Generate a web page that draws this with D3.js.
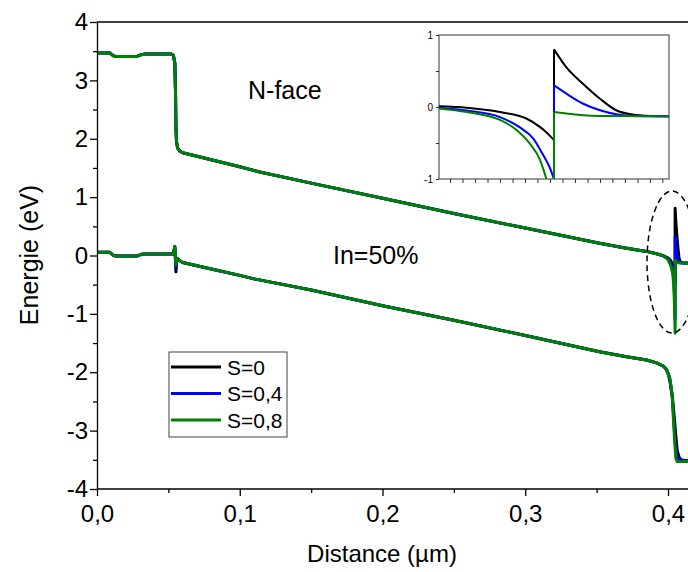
<!DOCTYPE html>
<html><head><meta charset="utf-8">
<script src="https://cdn.jsdelivr.net/npm/d3@7"></script>
<style>body{margin:0;background:#fff}text{font-family:"Liberation Sans",Arial,sans-serif}</style>
</head><body>
<svg id="c" width="688" height="572"></svg>
<script>
// ---------- DATA ----------
const seriesNames = ["S=0", "S=0,4", "S=0,8"];
const seriesColors = ["#000000", "#0000ff", "#008000"];
const xTicks = [0, 0.1, 0.2, 0.3, 0.4];
const yTicks = [-4, -3, -2, -1, 0, 1, 2, 3, 4];
const insetYTicks = [-1, 0, 1];

// conduction band (upper curve), common part [distance µm, energy eV]
const cbCommon = [[0,3.47],[0.009,3.47],[0.0115,3.42],[0.0135,3.41],[0.028,3.41],[0.031,3.44],[0.033,3.45],[0.052,3.45],[0.0535,3.43],[0.0545,3.3],[0.055,2.8],[0.0553,2.2],[0.0557,1.95],[0.0565,1.84],[0.058,1.79],[0.06,1.76],[0.07,1.70],[0.08,1.64],[0.1,1.52],[0.114,1.43],[0.15,1.24],[0.2,0.98],[0.25,0.72],[0.3,0.47],[0.352,0.21],[0.37,0.13],[0.385,0.07],[0.392,0.03],[0.396,0.0]];
// series-specific tails of conduction band near the heterointerface
const cbTail_S0  = [[0.398,-0.02],[0.4,-0.04],[0.402,-0.09],[0.4035,-0.17],[0.4044,-0.28],[0.405,-0.47],[0.405,0.81],[0.4055,0.57],[0.4063,0.32],[0.407,0.12],[0.4077,-0.04],[0.4084,-0.1],[0.41,-0.13],[0.415,-0.13]];
const cbTail_S04 = [[0.398,-0.02],[0.4,-0.05],[0.402,-0.13],[0.4035,-0.28],[0.4041,-0.44],[0.4045,-0.65],[0.4048,-0.83],[0.405,-1.1],[0.405,0.32],[0.4054,0.19],[0.406,0.05],[0.4067,-0.05],[0.4074,-0.1],[0.408,-0.125],[0.415,-0.13]];
const cbTail_S08 = [[0.398,-0.03],[0.4,-0.07],[0.402,-0.18],[0.4034,-0.32],[0.404,-0.51],[0.4044,-0.74],[0.4047,-1.0],[0.405,-1.33],[0.405,-0.08],[0.4054,-0.09],[0.406,-0.115],[0.407,-0.125],[0.415,-0.13]];

// valence band (lower curve)
const vbStart = [[0,0.055],[0.009,0.055],[0.0115,0.0],[0.0135,-0.01],[0.028,-0.01],[0.031,0.02],[0.033,0.025],[0.0535,0.025]];
const vbSpike_S0  = [[0.0545,0.15],[0.0553,-0.28],[0.0558,-0.1]];
const vbSpike_S04 = [[0.0545,0.15],[0.0553,-0.2],[0.0558,-0.08]];
const vbSpike_S08 = [[0.0545,0.16],[0.0553,-0.16],[0.0558,-0.06]];
const vbMiddle = [[0.0565,-0.05],[0.058,-0.09],[0.06,-0.12],[0.08,-0.23],[0.1,-0.34],[0.11,-0.40],[0.15,-0.59],[0.2,-0.86],[0.25,-1.11],[0.3,-1.37],[0.352,-1.65],[0.37,-1.73],[0.385,-1.79],[0.392,-1.84],[0.397,-1.9],[0.399,-1.96],[0.4005,-2.05]];
const vbTail_S0  = [[0.4015,-2.18],[0.403,-2.4],[0.4045,-2.8],[0.4055,-3.1],[0.4065,-3.35],[0.408,-3.47],[0.41,-3.51],[0.415,-3.52]];
const vbTail_S04 = [[0.4015,-2.15],[0.403,-2.42],[0.404,-2.8],[0.405,-3.2],[0.406,-3.42],[0.407,-3.5],[0.415,-3.52]];
const vbTail_S08 = [[0.4015,-2.12],[0.403,-2.42],[0.404,-2.9],[0.405,-3.3],[0.4055,-3.48],[0.4065,-3.53],[0.415,-3.53]];

// inset (zoom on the interface), relative position 0..1, energy eV
const insetLeft_S0  = [[0,0.01],[0.12,-0.01],[0.265,-0.07],[0.38,-0.16],[0.44,-0.28],[0.47,-0.36],[0.5,-0.46]];
const insetLeft_S04 = [[0,-0.01],[0.12,-0.05],[0.265,-0.14],[0.35,-0.28],[0.41,-0.44],[0.45,-0.65],[0.48,-0.83],[0.5,-1.0]];
const insetLeft_S08 = [[0,-0.02],[0.12,-0.07],[0.265,-0.18],[0.337,-0.32],[0.395,-0.51],[0.44,-0.74],[0.467,-1.0]];
const insetJump_S0  = [[0.5,-0.46],[0.5,0.8]];
const insetJump_S04 = [[0.5,-1.0],[0.5,0.3]];
const insetJump_S08 = [[0.5,-1.0],[0.5,-0.07]];
const insetRight_S0  = [[0.5,0.8],[0.554,0.55],[0.627,0.32],[0.7,0.115],[0.77,-0.045],[0.84,-0.105],[0.92,-0.125],[1,-0.13]];
const insetRight_S04 = [[0.5,0.3],[0.554,0.185],[0.627,0.045],[0.7,-0.045],[0.77,-0.1],[0.84,-0.125],[1,-0.13]];
const insetRight_S08 = [[0.5,-0.07],[0.554,-0.09],[0.627,-0.115],[0.7,-0.125],[1,-0.13]];
const insetXTicks = [0.048,0.102,0.157,0.211,0.265,0.32,0.374,0.428,0.483,0.537,0.591,0.646,0.7,0.754,0.808,0.863,0.917,0.971];

// ---------- DRAW ----------
const svg = d3.select("#c");
svg.append("rect").attr("width",688).attr("height",572).attr("fill","#fff");
const font = '"Liberation Sans",Arial,sans-serif';

const x = d3.scaleLinear().domain([0,0.4]).range([97,668]);
const y = d3.scaleLinear().domain([-4,4]).range([489,22]);

svg.append("clipPath").attr("id","plotclip").append("rect").attr("x",97).attr("y",22).attr("width",591).attr("height",467);

const line = d3.line().x(d=>x(d[0])).y(d=>y(d[1]));
const cbSeries = [cbCommon.concat(cbTail_S0), cbCommon.concat(cbTail_S04), cbCommon.concat(cbTail_S08)];
const vbSeries = [vbStart.concat(vbSpike_S0, vbMiddle, vbTail_S0), vbStart.concat(vbSpike_S04, vbMiddle, vbTail_S04), vbStart.concat(vbSpike_S08, vbMiddle, vbTail_S08)];

const g = svg.append("g").attr("clip-path","url(#plotclip)");
seriesNames.forEach((n,i)=>{
  g.append("path").attr("d",line(cbSeries[i])).attr("fill","none").attr("stroke",seriesColors[i]).attr("stroke-width",3).attr("stroke-linejoin","round");
  g.append("path").attr("d",line(vbSeries[i])).attr("fill","none").attr("stroke",seriesColors[i]).attr("stroke-width",3).attr("stroke-linejoin","round");
});

// axes
const fmt = d => d3.format(".1f")(d).replace(".", ",");
const yfmt = d => String(d);
const xAxis = d3.axisBottom(x).tickValues(xTicks).tickFormat(fmt).tickSize(7).tickSizeOuter(0);
const xMinor = d3.axisBottom(x).tickValues(d3.range(0.05,0.41,0.1)).tickFormat("").tickSize(4).tickSizeOuter(0);
const gx = svg.append("g").attr("transform","translate(0,489)").call(xAxis);
svg.append("g").attr("transform","translate(0,489)").call(xMinor).select(".domain").remove();
gx.select(".domain").attr("d","M97,0H688");
gx.selectAll("text").attr("font-size",24).attr("font-family",font).attr("fill","#000").attr("dy","0.95em");
const yAxis = d3.axisLeft(y).tickValues(yTicks).tickFormat(yfmt).tickSize(7).tickSizeOuter(0);
const yMinor = d3.axisLeft(y).tickValues(d3.range(-3.5,4,1)).tickFormat("").tickSize(4).tickSizeOuter(0);
const gy = svg.append("g").attr("transform","translate(97,0)").call(yAxis);
svg.append("g").attr("transform","translate(97,0)").call(yMinor).select(".domain").remove();
gy.selectAll("text").attr("font-size",24).attr("font-family",font).attr("fill","#000").attr("x",-9);
svg.selectAll(".domain, .tick line").attr("stroke","#000").attr("stroke-width",1.3);
svg.append("line").attr("x1",97).attr("x2",688).attr("y1",22).attr("y2",22).attr("stroke","#000").attr("stroke-width",1.3);

// titles
svg.append("text").attr("x",382).attr("y",562).attr("text-anchor","middle").attr("font-size",24).attr("font-family",font).text("Distance (µm)");
svg.append("text").attr("transform","translate(38,255) rotate(-90)").attr("text-anchor","middle").attr("font-size",25).attr("font-family",font).text("Energie (eV)");
svg.append("text").attr("x",248).attr("y",99).attr("font-size",25).attr("font-family",font).text("N-face");
svg.append("text").attr("x",333).attr("y",264).attr("font-size",25).attr("font-family",font).text("In=50%");

// dashed ellipse
svg.append("ellipse").attr("cx",672).attr("cy",262).attr("rx",25).attr("ry",71).attr("fill","none").attr("stroke","#000").attr("stroke-width",1.5).attr("stroke-dasharray","6,4");

// legend
const lg = svg.append("g");
lg.append("rect").attr("x",169).attr("y",352).attr("width",118).attr("height",85).attr("fill","#fff").attr("stroke","#444").attr("stroke-width",1);
seriesNames.forEach((n,i)=>{
  const yy = 367 + i*26.5;
  lg.append("line").attr("x1",171).attr("x2",221).attr("y1",yy).attr("y2",yy).attr("stroke",seriesColors[i]).attr("stroke-width",3);
  lg.append("text").attr("x",227).attr("y",yy+7.5).attr("font-size",21).attr("font-family",font).text(n);
});

// inset
const ix = d3.scaleLinear().domain([0,1]).range([439,669]);
const iy = d3.scaleLinear().domain([-1,1]).range([179,35]);
const ig = svg.append("g");
ig.append("rect").attr("x",439).attr("y",35).attr("width",230).attr("height",144).attr("fill","#fff").attr("stroke","#555").attr("stroke-width",1.2);
ig.append("clipPath").attr("id","insetclip").append("rect").attr("x",439).attr("y",35).attr("width",230).attr("height",144);
const icurve = d3.line().x(d=>ix(d[0])).y(d=>iy(d[1])).curve(d3.curveMonotoneX);
const iline = d3.line().x(d=>ix(d[0])).y(d=>iy(d[1]));
const insetParts = [[insetLeft_S0, insetJump_S0, insetRight_S0],[insetLeft_S04, insetJump_S04, insetRight_S04],[insetLeft_S08, insetJump_S08, insetRight_S08]];
const igc = ig.append("g").attr("clip-path","url(#insetclip)");
insetParts.forEach((parts,i)=>{
  igc.append("path").attr("d",icurve(parts[0])).attr("fill","none").attr("stroke",seriesColors[i]).attr("stroke-width",2);
  igc.append("path").attr("d",iline(parts[1])).attr("fill","none").attr("stroke",seriesColors[i]).attr("stroke-width",2);
  igc.append("path").attr("d",icurve(parts[2])).attr("fill","none").attr("stroke",seriesColors[i]).attr("stroke-width",2);
});
const iyAxis = d3.axisLeft(iy).tickValues(insetYTicks).tickFormat(yfmt).tickSize(3).tickSizeOuter(0);
const iyMinor = d3.axisLeft(iy).tickValues([-0.5,0.5]).tickFormat("").tickSize(3).tickSizeOuter(0);
const giy = ig.append("g").attr("transform","translate(439,0)").call(iyAxis);
ig.append("g").attr("transform","translate(439,0)").call(iyMinor).select(".domain").remove();
giy.select(".domain").remove();
giy.selectAll("text").attr("font-size",10).attr("font-family",font).attr("fill","#000");
const ixAxis = d3.axisBottom(ix).tickValues(insetXTicks).tickFormat("").tickSize(4).tickSizeOuter(0);
const gix = ig.append("g").attr("transform","translate(0,179)").call(ixAxis);
gix.select(".domain").remove();
ig.selectAll(".tick line").attr("stroke","#333").attr("stroke-width",1);
</script>
</body></html>
